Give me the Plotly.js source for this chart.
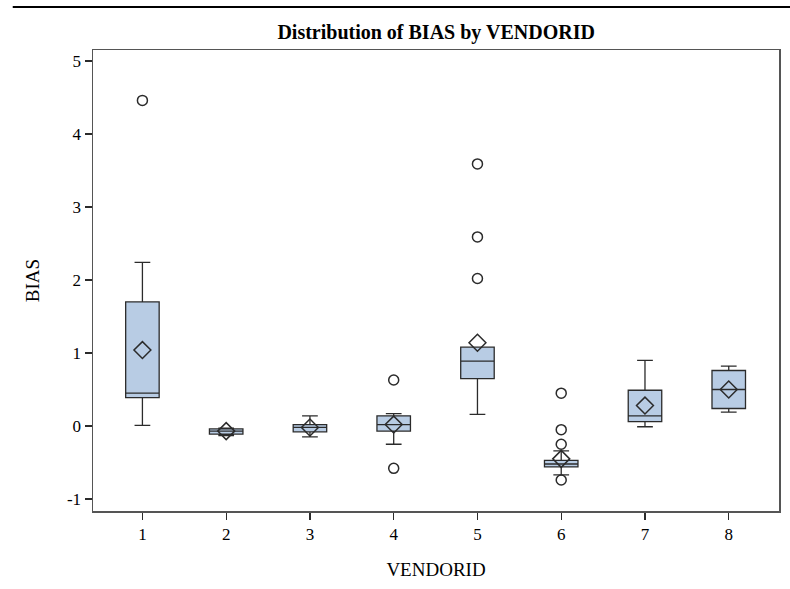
<!DOCTYPE html>
<html>
<head>
<meta charset="utf-8">
<script src="https://cdn.plot.ly/plotly-3.0.1.min.js"></script>
<style>html,body{margin:0;padding:0;background:#fff;}#chart{width:790px;height:589px;}</style>
</head>
<body>
<div id="chart"></div>
<script>
var vendorIds = [1, 2, 3, 4, 5, 6, 7, 8];
var lowerFence = [0.01, -0.13, -0.15, -0.25, 0.16, -0.67, -0.01, 0.19];
var q1Values = [0.39, -0.11, -0.08, -0.07, 0.65, -0.56, 0.06, 0.24];
var medianValues = [0.45, -0.07, -0.02, 0.02, 0.89, -0.52, 0.14, 0.50];
var q3Values = [1.70, -0.04, 0.02, 0.14, 1.08, -0.47, 0.49, 0.76];
var upperFence = [2.24, -0.03, 0.14, 0.17, 1.08, -0.34, 0.90, 0.82];
var meanValues = [1.04, -0.07, -0.02, 0.02, 1.14, -0.45, 0.28, 0.50];
var outlierVendor = [1, 4, 4, 5, 5, 5, 6, 6, 6, 6];
var outlierBias = [4.46, 0.63, -0.58, 3.59, 2.59, 2.02, 0.45, -0.05, -0.25, -0.74];
var xTickLabels = ['1', '2', '3', '4', '5', '6', '7', '8'];

var serif = 'Liberation Serif, Times New Roman, serif';
var dark = '#2b2b2b';

var traces = [
  {
    type: 'box',
    x: vendorIds,
    q1: q1Values,
    median: medianValues,
    q3: q3Values,
    lowerfence: lowerFence,
    upperfence: upperFence,
    width: 0.4,
    whiskerwidth: 0.47,
    fillcolor: '#b8cce4',
    line: {color: dark, width: 1.3},
    boxpoints: false,
    hoverinfo: 'skip',
    showlegend: false
  },
  {
    type: 'scatter',
    mode: 'markers',
    x: vendorIds,
    y: meanValues,
    marker: {symbol: 'diamond-open', size: 13, color: dark, line: {width: 1.5, color: dark}},
    showlegend: false,
    hoverinfo: 'skip'
  },
  {
    type: 'scatter',
    mode: 'markers',
    x: outlierVendor,
    y: outlierBias,
    marker: {symbol: 'circle-open', size: 10, color: dark, line: {width: 1.5, color: dark}},
    showlegend: false,
    hoverinfo: 'skip'
  }
];

var layout = {
  width: 790,
  height: 589,
  margin: {l: 93, r: 11, t: 50, b: 78, pad: 0},
  paper_bgcolor: '#ffffff',
  plot_bgcolor: '#ffffff',
  font: {family: serif, color: '#000000', size: 17},
  title: {
    text: '<b>Distribution of BIAS by VENDORID</b>',
    font: {family: serif, size: 20, color: '#000000'},
    x: 0.5521, xanchor: 'center', y: 0.945, yanchor: 'middle'
  },
  xaxis: {
    range: [0.41, 8.6],
    tickmode: 'array',
    tickvals: vendorIds,
    ticktext: xTickLabels,
    ticks: 'outside',
    ticklen: 7,
    tickcolor: dark,
    tickwidth: 1.3,
    showgrid: false,
    zeroline: false,
    showline: true,
    linecolor: '#555555',
    linewidth: 1.5,
    mirror: true,
    tickfont: {family: serif, size: 17, color: '#000000'},
    title: {text: 'VENDORID', font: {family: serif, size: 19, color: '#000000'}, standoff: 20}
  },
  yaxis: {
    range: [-1.164, 5.15],
    tickmode: 'array',
    tickvals: [-1, 0, 1, 2, 3, 4, 5],
    ticktext: ['-1', '0', '1', '2', '3', '4', '5'],
    ticks: 'outside',
    ticklen: 7,
    tickcolor: dark,
    tickwidth: 1.3,
    showgrid: false,
    zeroline: false,
    showline: true,
    linecolor: '#555555',
    linewidth: 1.5,
    mirror: true,
    tickfont: {family: serif, size: 17, color: '#000000'},
    title: {text: 'BIAS', font: {family: serif, size: 19, color: '#000000'}, standoff: 22}
  },
  shapes: [
    {type: 'line', xref: 'paper', yref: 'paper', x0: -0.117, x1: 1.02, y0: 1.0935, y1: 1.0935,
     line: {color: '#000000', width: 2}}
  ]
};

Plotly.newPlot('chart', traces, layout, {displayModeBar: false, staticPlot: true});
</script>
</body>
</html>
